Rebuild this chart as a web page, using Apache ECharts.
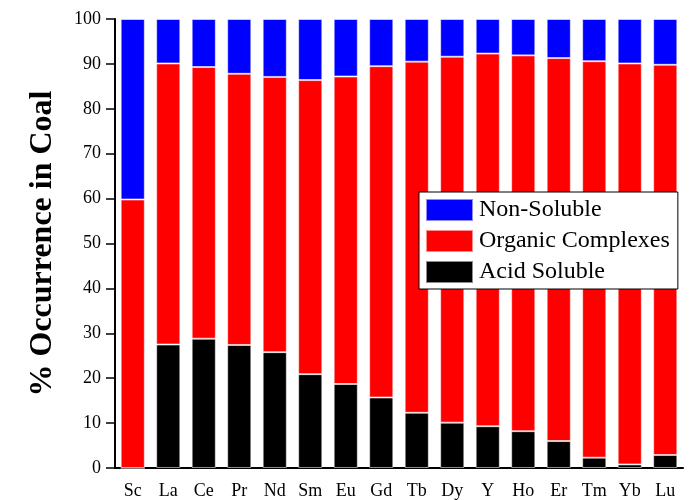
<!DOCTYPE html>
<html>
<head>
<meta charset="utf-8">
<script src="https://cdn.jsdelivr.net/npm/echarts@6/dist/echarts.min.js"></script>
<style>
  html, body { margin: 0; padding: 0; background: #fff; }
  #main { width: 697px; height: 500px; }
</style>
</head>
<body>
<div id="main"></div>
<script>
// 元素类别
var elements = ['Sc', 'La', 'Ce', 'Pr', 'Nd', 'Sm', 'Eu', 'Gd', 'Tb', 'Dy', 'Y', 'Ho', 'Er', 'Tm', 'Yb', 'Lu'];

// 各形态所占百分比
var acidSoluble = [0, 27.5, 28.8, 27.4, 25.8, 20.9, 18.7, 15.7, 12.3, 10.1, 9.3, 8.2, 6.0, 2.3, 0.8, 2.9];
var organicComplexes = [59.8, 62.6, 60.5, 60.4, 61.3, 65.5, 68.5, 73.8, 78.2, 81.5, 83.0, 83.7, 85.3, 88.3, 89.3, 86.9];
var nonSoluble = [40.2, 9.9, 10.7, 12.2, 12.9, 13.6, 12.8, 10.5, 9.5, 8.4, 7.7, 8.1, 8.7, 9.4, 9.9, 10.2];

var serif = '"Liberation Serif", "DejaVu Serif", serif';

var myChart = echarts.init(document.getElementById('main'));

function barSeries(name, data, color) {
  return {
    name: name,
    type: 'bar',
    stack: 'total',
    barWidth: '68%',
    data: data,
    itemStyle: {
      color: color,
      borderColor: 'rgba(255,255,255,0.55)',
      borderWidth: 1
    }
  };
}

var option = {
  animation: false,
  backgroundColor: '#fff',
  grid: {
    left: 115,
    right: 14,
    top: 19,
    bottom: 32
  },
  legend: {
    // 图例顺序与原图一致
    data: ['Non-Soluble', 'Organic Complexes', 'Acid Soluble'],
    orient: 'vertical',
    left: 419,
    top: 192,
    padding: [6, 8, 5, 6],
    itemWidth: 47,
    itemHeight: 22,
    itemGap: 7,
    borderColor: '#000',
    borderWidth: 1,
    backgroundColor: '#fff',
    icon: 'rect',
    textStyle: {
      fontFamily: serif,
      fontSize: 24,
      lineHeight: 22,
      color: '#000',
      padding: [0, 0, 0, 1]
    }
  },
  xAxis: {
    type: 'category',
    data: elements,
    axisLine: { lineStyle: { color: '#000', width: 2 } },
    axisTick: { alignWithLabel: true, length: 9, lineStyle: { color: '#000', width: 1.5 } },
    axisLabel: {
      fontFamily: serif,
      fontSize: 18,
      color: '#000',
      margin: 14
    }
  },
  yAxis: {
    type: 'value',
    min: 0,
    max: 100,
    interval: 10,
    name: '% Occurrence in Coal',
    nameLocation: 'middle',
    nameGap: 56,
    nameTextStyle: {
      fontFamily: serif,
      fontSize: 32,
      fontWeight: 'bold',
      color: '#000'
    },
    splitLine: { show: false },
    axisLine: { show: true, lineStyle: { color: '#000', width: 2 } },
    axisTick: { show: true, length: 9, lineStyle: { color: '#000', width: 1.5 } },
    axisLabel: {
      fontFamily: serif,
      fontSize: 18,
      color: '#000',
      margin: 14
    }
  },
  series: [
    barSeries('Acid Soluble', acidSoluble, '#000000'),
    barSeries('Organic Complexes', organicComplexes, '#ff0000'),
    barSeries('Non-Soluble', nonSoluble, '#0000ff')
  ]
};

myChart.setOption(option);
</script>
</body>
</html>
